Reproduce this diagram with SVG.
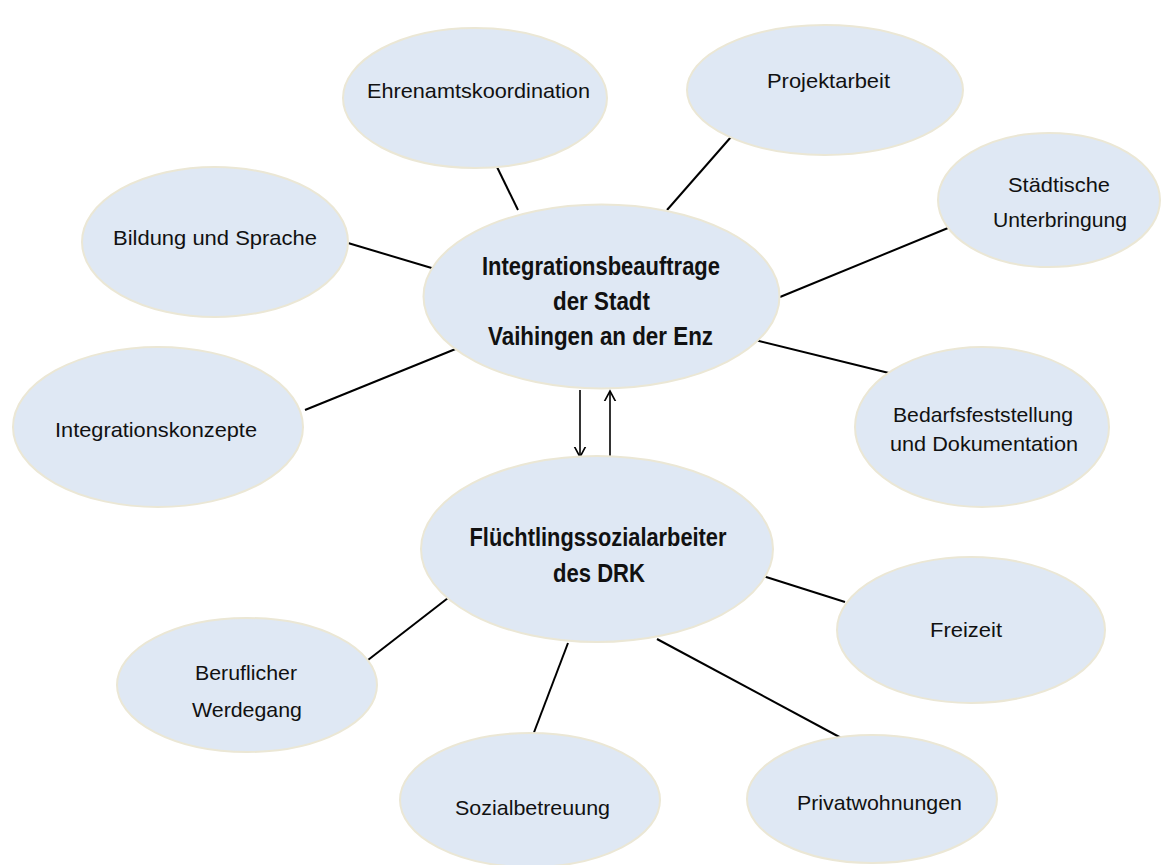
<svg xmlns="http://www.w3.org/2000/svg" width="1176" height="865" viewBox="0 0 1176 865">
<style>
.n{fill:#dfe8f4;stroke:#ebe7d5;stroke-width:2}
.t{font-family:"Liberation Sans",Arial,sans-serif;font-size:21px;fill:#111;text-anchor:middle}
.b{font-family:"Liberation Sans",Arial,sans-serif;font-size:26px;font-weight:bold;fill:#111;text-anchor:middle}
.c{stroke:#000;stroke-width:2;fill:none}
.a{stroke:#000;stroke-width:1.6;fill:none}
</style>
<defs>
<marker id="ah" markerWidth="20" markerHeight="20" viewBox="-10 -10 20 20" refX="0" refY="0" orient="auto" markerUnits="userSpaceOnUse">
<path d="M-15,-8 L0,0 L-15,8" fill="none" stroke="#000" stroke-width="1.6"/>
</marker>
</defs>
<rect width="1176" height="865" fill="#fff"/>
<g id="connectors">
<line class="c" x1="497" y1="167" x2="518" y2="210"/>
<line class="c" x1="731" y1="137" x2="667" y2="210"/>
<line class="c" x1="948" y1="228" x2="780" y2="297"/>
<line class="c" x1="348" y1="243" x2="435" y2="269"/>
<line class="c" x1="305" y1="410" x2="458" y2="348"/>
<line class="c" x1="755" y1="340" x2="893" y2="374"/>
<line class="c" x1="763" y1="576" x2="845" y2="602"/>
<line class="c" x1="657" y1="639" x2="845" y2="740"/>
<line class="c" x1="568" y1="643" x2="533" y2="735"/>
<line class="c" x1="368" y1="660" x2="448" y2="598"/>
<line class="a" x1="580" y1="390" x2="580" y2="457" marker-end="url(#ah)"/>
<line class="a" x1="610" y1="458" x2="610" y2="391" marker-end="url(#ah)"/>
</g>
<g id="integrationsbeauftrage">
<ellipse class="n" cx="601.5" cy="296.5" rx="178" ry="92"/>
<text class="b" x="601" y="275" textLength="238" lengthAdjust="spacingAndGlyphs">Integrationsbeauftrage</text>
<text class="b" x="601.5" y="310" textLength="97" lengthAdjust="spacingAndGlyphs">der Stadt</text>
<text class="b" x="600.5" y="345" textLength="225" lengthAdjust="spacingAndGlyphs">Vaihingen an der Enz</text>
</g>
<g id="fluechtlingssozialarbeiter">
<ellipse class="n" cx="597" cy="549" rx="176" ry="93"/>
<text class="b" x="598" y="546" textLength="257" lengthAdjust="spacingAndGlyphs">Flüchtlingssozialarbeiter</text>
<text class="b" x="599" y="582" textLength="92" lengthAdjust="spacingAndGlyphs">des DRK</text>
</g>
<g id="ehrenamtskoordination">
<ellipse class="n" cx="475" cy="98" rx="132" ry="70"/>
<text class="t" x="478.5" y="98" textLength="223" lengthAdjust="spacingAndGlyphs">Ehrenamtskoordination</text>
</g>
<g id="projektarbeit">
<ellipse class="n" cx="825" cy="90" rx="138" ry="65"/>
<text class="t" x="828.5" y="88" textLength="123" lengthAdjust="spacingAndGlyphs">Projektarbeit</text>
</g>
<g id="staedtische-unterbringung">
<ellipse class="n" cx="1049" cy="200" rx="111" ry="67"/>
<text class="t" x="1059" y="192" textLength="102" lengthAdjust="spacingAndGlyphs">Städtische</text>
<text class="t" x="1060" y="227" textLength="134" lengthAdjust="spacingAndGlyphs">Unterbringung</text>
</g>
<g id="bildung-und-sprache">
<ellipse class="n" cx="215" cy="242" rx="133" ry="75"/>
<text class="t" x="215" y="245" textLength="204" lengthAdjust="spacingAndGlyphs">Bildung und Sprache</text>
</g>
<g id="integrationskonzepte">
<ellipse class="n" cx="158" cy="427" rx="145" ry="80"/>
<text class="t" x="156" y="437" textLength="202" lengthAdjust="spacingAndGlyphs">Integrationskonzepte</text>
</g>
<g id="bedarfsfeststellung">
<ellipse class="n" cx="982" cy="427" rx="127" ry="80"/>
<text class="t" x="983" y="422" textLength="180" lengthAdjust="spacingAndGlyphs">Bedarfsfeststellung</text>
<text class="t" x="984" y="451" textLength="188" lengthAdjust="spacingAndGlyphs">und Dokumentation</text>
</g>
<g id="freizeit">
<ellipse class="n" cx="971" cy="630" rx="134" ry="73"/>
<text class="t" x="966" y="637" textLength="72" lengthAdjust="spacingAndGlyphs">Freizeit</text>
</g>
<g id="privatwohnungen">
<ellipse class="n" cx="872" cy="799" rx="125" ry="64"/>
<text class="t" x="879.5" y="810" textLength="165" lengthAdjust="spacingAndGlyphs">Privatwohnungen</text>
</g>
<g id="sozialbetreuung">
<ellipse class="n" cx="530" cy="800" rx="130" ry="67"/>
<text class="t" x="532.5" y="815" textLength="155" lengthAdjust="spacingAndGlyphs">Sozialbetreuung</text>
</g>
<g id="beruflicher-werdegang">
<ellipse class="n" cx="247" cy="685" rx="130" ry="67"/>
<text class="t" x="246" y="680" textLength="102" lengthAdjust="spacingAndGlyphs">Beruflicher</text>
<text class="t" x="247" y="717" textLength="110" lengthAdjust="spacingAndGlyphs">Werdegang</text>
</g>
</svg>
